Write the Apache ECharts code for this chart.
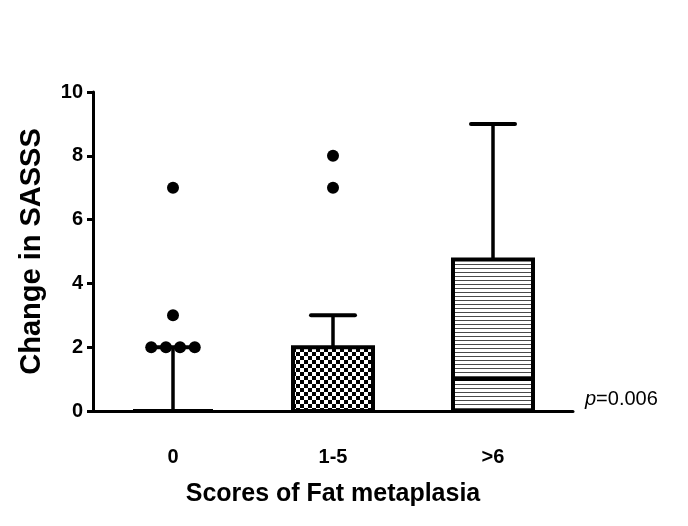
<!DOCTYPE html>
<html><head><meta charset="utf-8">
<script src="https://cdn.jsdelivr.net/npm/echarts@6/dist/echarts.min.js"></script>
<style>html,body{margin:0;padding:0;background:#fff}#c{width:688px;height:526px}</style>
</head><body><div id="c"></div>
<script>
const categories = ['0', '1-5', '>6'];
// [min, q1, median, q3, max] per category
const boxMin    = [0, 0, 0];
const boxQ1     = [0, 0, 0];
const boxMedian = [0, 0, 1];
const boxQ3     = [0, 2, 4.75];
const boxMax    = [2, 3, 9];
// outlier points: [x position in category units, value]
const outlierX = [-0.136, -0.044, 0.044, 0.136, 0, 0, 1, 1];
const outlierY = [2, 2, 2, 2, 3, 7, 7, 8];
const yMin = 0, yMax = 10, yInterval = 2;
const xTitle = 'Scores of Fat metaplasia';
const yTitle = 'Change in SASSS';
const pLabel = '{i|p}=0.006';

const FONT = '"Liberation Sans", Arial, Helvetica, sans-serif';

function makeChecker() {
  const c = document.createElement('canvas'); c.width = 8; c.height = 8;
  const g = c.getContext('2d');
  g.fillStyle = '#fff'; g.fillRect(0, 0, 8, 8);
  g.fillStyle = '#000'; g.fillRect(0, 0, 4, 4); g.fillRect(4, 4, 4, 4);
  return c;
}
function makeHLines() {
  const c = document.createElement('canvas'); c.width = 8; c.height = 4;
  const g = c.getContext('2d');
  g.fillStyle = '#fff'; g.fillRect(0, 0, 8, 4);
  g.fillStyle = '#4a4a4a'; g.fillRect(0, 0, 8, 1);
  return c;
}
const fills = ['#ffffff', { image: makeChecker(), repeat: 'repeat' }, { image: makeHLines(), repeat: 'repeat' }];

const boxData = categories.map((c, i) => [i, boxMin[i], boxQ1[i], boxMedian[i], boxQ3[i], boxMax[i]]);
const outlierData = outlierX.map((x, i) => [x, outlierY[i]]);

const chart = echarts.init(document.getElementById('c'), null, { renderer: 'canvas' });
chart.setOption({
  backgroundColor: '#fff',
  animation: false,
  textStyle: { fontFamily: FONT },
  grid: { left: 93, right: 115, top: 92, bottom: 115, containLabel: false },
  xAxis: [{
    type: 'category', data: categories,
    axisLine: { onZero: false, lineStyle: { color: '#000', width: 3 } },
    axisTick: { alignWithLabel: true, length: 6, lineStyle: { color: '#000', width: 3 } },
    axisLabel: { color: '#000', fontSize: 20, fontWeight: 'bold', margin: 36, fontFamily: FONT },
    name: xTitle, nameLocation: 'middle', nameGap: 71,
    nameTextStyle: { color: '#000', fontSize: 25, fontWeight: 'bold', fontFamily: FONT },
    splitLine: { show: false }
  }, {
    type: 'value', min: -0.5, max: 2.5, show: false,
    axisLine: { onZero: false }
  }],
  yAxis: {
    type: 'value', min: yMin, max: yMax, interval: yInterval,
    axisLine: { show: true, onZero: false, lineStyle: { color: '#000', width: 3 } },
    axisTick: { show: true, length: 6, lineStyle: { color: '#000', width: 3 } },
    axisLabel: { color: '#000', fontSize: 20, fontWeight: 'bold', margin: 10, fontFamily: FONT },
    splitLine: { show: false },
    name: yTitle, nameLocation: 'middle', nameGap: 47,
    nameTextStyle: { color: '#000', fontSize: 29, fontWeight: 'bold', fontFamily: FONT }
  },
  series: [{
    type: 'custom',
    xAxisIndex: 0,
    data: boxData,
    encode: { x: 0, y: [1, 2, 3, 4, 5] },
    z: 3,
    renderItem: function (params, api) {
      const i = api.value(0);
      const cx = api.coord([i, api.value(2)])[0];
      const bw = api.size([1, 0])[0] * 0.5;
      const yq1 = api.coord([i, api.value(2)])[1];
      const ymd = api.coord([i, api.value(3)])[1];
      const yq3 = api.coord([i, api.value(4)])[1];
      const ymx = api.coord([i, api.value(5)])[1];
      const ymn = api.coord([i, api.value(1)])[1];
      const capHalf = 22;
      const children = [];
      children.push({ type: 'line', shape: { x1: cx, y1: yq3, x2: cx, y2: ymx }, style: { stroke: '#000', lineWidth: 3.5 } });
      children.push({ type: 'line', shape: { x1: cx - capHalf, y1: ymx, x2: cx + capHalf, y2: ymx }, style: { stroke: '#000', lineWidth: 4, lineCap: 'round' } });
      if (ymn !== yq1) {
        children.push({ type: 'line', shape: { x1: cx, y1: yq1, x2: cx, y2: ymn }, style: { stroke: '#000', lineWidth: 3.5 } });
      }
      children.push({ type: 'rect', shape: { x: cx - bw / 2, y: yq3, width: bw, height: yq1 - yq3 }, style: { fill: fills[i], stroke: '#000', lineWidth: 4 } });
      children.push({ type: 'line', shape: { x1: cx - bw / 2, y1: ymd, x2: cx + bw / 2, y2: ymd }, style: { stroke: '#000', lineWidth: 4 } });
      return { type: 'group', children: children };
    }
  }, {
    type: 'scatter',
    xAxisIndex: 1,
    data: outlierData,
    symbol: 'circle', symbolSize: 12,
    itemStyle: { color: '#000', opacity: 1 },
    z: 5
  }],
  graphic: [{
    type: 'text', left: 585, top: 389,
    style: {
      text: pLabel, fill: '#000', fontSize: 20, fontFamily: FONT,
      rich: { i: { fontStyle: 'italic', fontSize: 20, fontFamily: FONT, fill: '#000' } }
    }
  }]
});
</script>
</body></html>
